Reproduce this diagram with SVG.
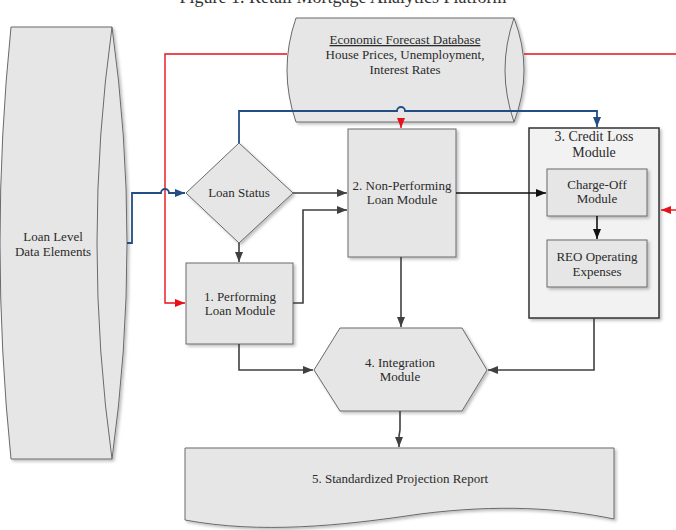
<svg xmlns="http://www.w3.org/2000/svg" width="676" height="530" viewBox="0 0 676 530">
<style>
.sh{fill:#e6e6e6;stroke:#6a6a6a;stroke-width:1;filter:url(#ds)}
.t{font-family:"Liberation Serif","Times New Roman",serif;font-size:13px;fill:#2a2a2a;text-anchor:middle}
.g{fill:none;stroke:#404040;stroke-width:1.6}
.k{fill:none;stroke:#111;stroke-width:1.6}
.r{fill:none;stroke:#e8101a;stroke-width:1.4}
.b{fill:none;stroke:#234d85;stroke-width:1.8}
</style>
<defs>
<filter id="ds" x="-10%" y="-10%" width="130%" height="130%">
<feDropShadow dx="2" dy="2" stdDeviation="1.5" flood-color="#000" flood-opacity="0.25"/>
</filter>
<marker id="ag" markerWidth="10" markerHeight="8" refX="10" refY="4" orient="auto" markerUnits="userSpaceOnUse"><path d="M0,0 L10,4 L0,8 Z" fill="#404040"/></marker>
<marker id="ak" markerWidth="10" markerHeight="8" refX="10" refY="4" orient="auto" markerUnits="userSpaceOnUse"><path d="M0,0 L10,4 L0,8 Z" fill="#111"/></marker>
<marker id="ar" markerWidth="10" markerHeight="8" refX="10" refY="4" orient="auto" markerUnits="userSpaceOnUse"><path d="M0,0 L10,4 L0,8 Z" fill="#e8101a"/></marker>
<marker id="ab" markerWidth="10" markerHeight="8" refX="10" refY="4" orient="auto" markerUnits="userSpaceOnUse"><path d="M0,0 L10,4 L0,8 Z" fill="#234d85"/></marker>
</defs>
<rect width="676" height="530" fill="#fff"/>
<text x="343" y="3" style="font-family:'Liberation Serif',serif;font-size:18px;fill:#333;text-anchor:middle">Figure 1. Retail Mortgage Analytics Platform</text>

<g id="loan-level-data">
<path class="sh" d="M11,27 L112,27 Q142,243 112,459 L11,459 Q-11,243 11,27 Z"/>
<path d="M112,27 Q82,243 112,459" fill="none" stroke="#6a6a6a"/>
<text class="t" x="53" y="241">Loan Level</text>
<text class="t" x="53" y="256">Data Elements</text>
</g>

<g id="economic-forecast-db">
<path class="sh" d="M296,18 L514,18 Q534,70 514,122 L296,122 Q278,70 296,18 Z"/>
<path d="M514,18 Q496,70 514,122" fill="none" stroke="#6a6a6a"/>
<text class="t" x="405" y="44" text-decoration="underline">Economic Forecast Database</text>
<text class="t" x="405" y="59">House Prices, Unemployment,</text>
<text class="t" x="405" y="74">Interest Rates</text>
</g>

<g id="loan-status">
<path class="sh" d="M239,143 L293,193 L239,243 L186,193 Z"/>
<text class="t" x="239" y="197">Loan Status</text>
</g>

<g id="performing-module">
<rect class="sh" x="186" y="263" width="107" height="81"/>
<text class="t" x="240" y="301">1. Performing</text>
<text class="t" x="240" y="315">Loan Module</text>
</g>

<g id="non-performing-module">
<rect class="sh" x="348" y="129" width="108" height="128"/>
<text class="t" x="402" y="190">2. Non-Performing</text>
<text class="t" x="402" y="204">Loan Module</text>
</g>

<g id="credit-loss-module">
<rect x="529" y="128" width="130" height="190" fill="#f2f2f2" stroke="#333" stroke-width="1.5" filter="url(#ds)"/>
<text class="t" x="594" y="141" style="font-size:14px">3. Credit Loss</text>
<text class="t" x="594" y="157" style="font-size:14px">Module</text>
</g>

<g id="charge-off-module">
<rect class="sh" x="547" y="169" width="100" height="47" fill="#e0e0e0"/>
<text class="t" x="597" y="189">Charge-Off</text>
<text class="t" x="597" y="203">Module</text>
</g>

<g id="reo-expenses">
<rect class="sh" x="547" y="240" width="100" height="47"/>
<text class="t" x="597" y="261">REO Operating</text>
<text class="t" x="597" y="276">Expenses</text>
</g>

<g id="integration-module">
<path class="sh" d="M340,328 L462,328 L487,370 L462,411 L340,411 L314,370 Z"/>
<text class="t" x="400" y="367">4. Integration</text>
<text class="t" x="400" y="381">Module</text>
</g>

<g id="projection-report">
<path class="sh" d="M185,448 L614,448 L614,519 C560,508 500,504 420,514 C340,526 260,534 185,520 Z"/>
<text class="t" x="400" y="483">5. Standardized Projection Report</text>
</g>

<g id="connectors">
<path class="r" d="M287,54 L165,54 L165,303 L185,303" marker-end="url(#ar)"/>
<path class="r" d="M524,54 L676,54"/>
<path class="r" d="M401,122 L401,128" marker-end="url(#ar)"/>
<path class="r" d="M676,210 L661,210" marker-end="url(#ar)"/>
<path class="b" d="M127,243 L132,243 L132,193 L161,193 A4,4 0 0 1 169,193 L185,193" marker-end="url(#ab)"/>
<path class="b" d="M239,143 L239,111 L397,111 A4,4 0 0 1 405,111 L597,111 L597,127" marker-end="url(#ab)"/>
<path class="g" d="M293,193 L347,193" marker-end="url(#ag)"/>
<path class="g" d="M239,243 L239,262" marker-end="url(#ag)"/>
<path class="g" d="M293,303 L303,303 L303,210 L347,210" marker-end="url(#ag)"/>
<path class="k" d="M456,193 L546,193" marker-end="url(#ak)"/>
<path class="k" d="M597,216 L597,239" marker-end="url(#ak)"/>
<path class="g" d="M401,257 L401,327" marker-end="url(#ag)"/>
<path class="g" d="M239,344 L239,370 L313,370" marker-end="url(#ag)"/>
<path class="g" d="M594,318 L594,370 L488,370" marker-end="url(#ag)"/>
<path class="g" d="M400,411 L400,430 L399,436 L399,447" marker-end="url(#ag)"/>
</g>
</svg>
